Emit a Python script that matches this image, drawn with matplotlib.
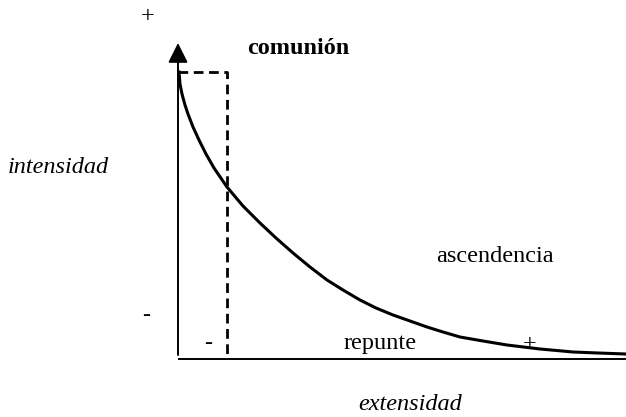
import matplotlib
matplotlib.use("Agg")
import matplotlib.pyplot as plt

# Curve (x = extensity, y = intensity, arbitrary units)
curve_x = [1, 2, 4, 7, 10, 15, 21, 28, 36, 49, 65, 82, 98, 115, 132, 149, 165, 182,
	198, 215, 232, 249, 265, 282, 305, 329, 362, 395, 420, 448]
curve_y = [287, 275, 265, 254, 245, 232, 219, 205, 191, 172, 153, 136, 121, 106, 92, 79, 69, 59,
	51, 44, 38, 32, 27, 22, 18, 14, 10, 7, 6, 5]

# Dashed "comunión" box
box_x = [0, 49, 49]
box_y = [287, 287, 0]

# Axes extents
x_axis = [0, 448]
y_axis_bottom = 4
y_axis_top = 316

# Labels: (text, x, y, style, weight)
labels = [
	("+", -30, 342, "normal", "normal"),
	("comunión", 120, 311, "normal", "bold"),
	("intensidad", -120, 192, "italic", "normal"),
	("ascendencia", 317, 102, "normal", "normal"),
	("-", -32, 44, "normal", "normal"),
	("-", 30, 16, "normal", "normal"),
	("repunte", 202, 16, "normal", "normal"),
	("+", 352, 14, "normal", "normal"),
	("extensidad", 232, -45, "italic", "normal"),
]

plt.rcParams["font.family"] = ["Liberation Serif", "DejaVu Serif"]

fig = plt.figure(figsize=(6.26, 4.17), dpi=100)
ax = fig.add_axes([0, 0, 1, 1])
ax.set_xlim(-178, 448)
ax.set_ylim(-58, 359)
ax.axis("off")

# Horizontal axis
ax.plot(x_axis, [0, 0], color="black", lw=1.4, solid_capstyle="butt")

# Vertical axis with arrow head
ax.annotate("", xy=(0, y_axis_top), xytext=(0, y_axis_bottom),
	arrowprops=dict(arrowstyle="-|>,head_length=1.0,head_width=0.5", mutation_scale=12,
		lw=1.4, color="black", shrinkA=0, shrinkB=0))

# Dashed box
ax.plot(box_x, box_y, color="black", lw=2.0, linestyle=(0, (3.5, 2)))

# Decay curve
ax.plot(curve_x, curve_y, color="black", lw=2.2, solid_joinstyle="round")

for text, x, y, style, weight in labels:
	ax.text(x, y, text, ha="center", va="center", fontsize=17.5, style=style, fontweight=weight)

fig.savefig("out.png", dpi=100)
